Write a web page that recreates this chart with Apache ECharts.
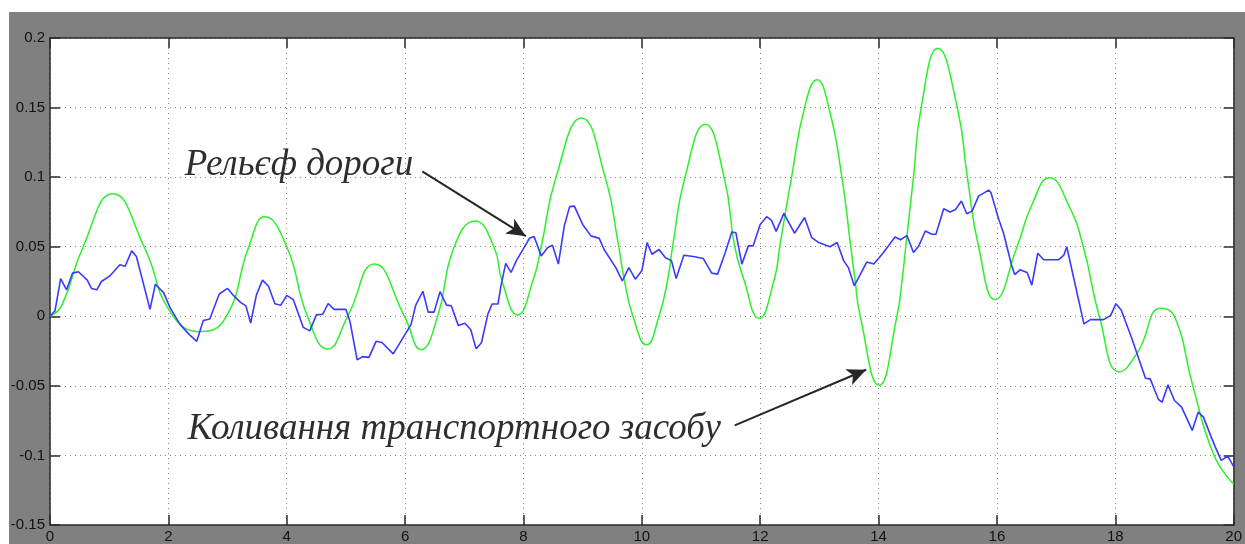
<!DOCTYPE html>
<html>
<head>
<meta charset="utf-8">
<script src="https://cdn.jsdelivr.net/npm/echarts@6/dist/echarts.min.js"></script>
<style>
  html, body { margin: 0; padding: 0; background: #ffffff; }
  #bg { position: absolute; left: 9px; top: 12px; width: 1236px; height: 532px; background: #808080; }
  #chart { position: absolute; left: 0; top: 0; width: 1245px; height: 544px; }
</style>
</head>
<body>
<div id="bg"></div>
<div id="chart"></div>
<script>
// ---- tick labels ----
const xTickLabels = ['0','2','4','6','8','10','12','14','16','18','20'];
const yTickLabels = ['-0.15','-0.1','-0.05','0','0.05','0.1','0.15','0.2'];

// ---- blue series: "Рельєф дороги" ----
const roadX = [0,0.085,0.18,0.28,0.38,0.48,0.63,0.70,0.79,0.87,1.01,1.18,1.27,1.38,1.46,1.69,1.78,1.92,2.03,2.2,2.35,2.48,2.59,2.70,2.86,3.0,3.10,3.22,3.31,3.39,3.49,3.59,3.69,3.80,3.90,4.0,4.11,4.28,4.39,4.50,4.61,4.70,4.80,5.0,5.07,5.19,5.28,5.39,5.51,5.61,5.80,6.0,6.10,6.18,6.30,6.39,6.49,6.59,6.70,6.78,6.90,7.01,7.11,7.20,7.29,7.40,7.47,7.57,7.62,7.70,7.79,7.88,8.02,8.10,8.18,8.30,8.41,8.49,8.59,8.69,8.78,8.86,9.0,9.14,9.28,9.36,9.56,9.67,9.78,9.89,10.0,10.09,10.17,10.29,10.40,10.50,10.58,10.71,10.87,11.04,11.18,11.28,11.41,11.52,11.59,11.69,11.80,11.88,12.0,12.11,12.19,12.27,12.40,12.58,12.75,12.87,12.99,13.18,13.30,13.41,13.49,13.59,13.69,13.80,13.92,14.06,14.28,14.37,14.48,14.59,14.68,14.79,14.90,14.97,15.10,15.21,15.30,15.40,15.49,15.58,15.69,15.86,15.90,16.03,16.11,16.25,16.30,16.39,16.51,16.59,16.69,16.79,17.04,17.13,17.18,17.32,17.47,17.58,17.80,17.92,18.01,18.10,18.28,18.51,18.59,18.73,18.79,18.89,19.0,19.12,19.30,19.40,19.49,19.61,19.69,19.79,19.90,20.0];
const roadY = [0,0.004,0.027,0.019,0.031,0.032,0.026,0.020,0.019,0.025,0.029,0.037,0.036,0.047,0.043,0.005,0.023,0.017,0.006,-0.006,-0.013,-0.018,-0.003,-0.002,0.016,0.020,0.015,0.010,0.0075,-0.0048,0.0157,0.026,0.0217,0.009,0.008,0.015,0.012,-0.008,-0.0105,0.001,0.0015,0.0092,0.005,0.005,-0.004,-0.0313,-0.029,-0.0295,-0.018,-0.0188,-0.027,-0.013,-0.006,0.008,0.018,0.003,0.003,0.0177,0.008,0.0076,-0.0067,-0.005,-0.0097,-0.0234,-0.019,0.0017,0.0088,0.0088,0.022,0.038,0.0315,0.040,0.050,0.056,0.0573,0.0434,0.0494,0.051,0.0375,0.065,0.0788,0.0792,0.066,0.0578,0.056,0.0482,0.035,0.0255,0.035,0.0267,0.0327,0.053,0.0446,0.048,0.042,0.040,0.0272,0.0439,0.043,0.0415,0.031,0.0303,0.0458,0.0606,0.060,0.0375,0.0506,0.0506,0.066,0.0716,0.069,0.061,0.074,0.0597,0.071,0.0566,0.053,0.050,0.053,0.040,0.035,0.022,0.030,0.039,0.0375,0.0446,0.057,0.055,0.058,0.0458,0.0506,0.0613,0.059,0.059,0.0773,0.075,0.0768,0.0828,0.0737,0.0756,0.0864,0.0907,0.0888,0.0697,0.060,0.0363,0.030,0.0334,0.0315,0.0224,0.0453,0.0406,0.0406,0.0439,0.050,0.0232,-0.0055,-0.0024,-0.0024,0.0005,0.009,0.0045,-0.016,-0.0445,-0.045,-0.0598,-0.0617,-0.0493,-0.0605,-0.0653,-0.082,-0.0689,-0.0725,-0.0856,-0.094,-0.1036,-0.1005,-0.108];

// ---- green series: "Коливання транспортного засобу" ----
const vehicleX = [0,0.2,0.56,1.06,1.59,2.05,2.56,2.98,3.36,3.63,4.0,4.35,4.69,5.03,5.48,5.99,6.27,6.55,6.83,7.18,7.5,7.64,7.9,8.17,8.3,8.55,8.98,9.38,9.61,9.70,9.85,10.08,10.29,10.44,10.52,10.73,11.07,11.39,11.57,11.72,11.98,12.24,12.33,12.53,12.75,12.96,13.16,13.38,13.53,13.6,13.69,14.01,14.31,14.40,14.46,14.59,14.72,15.0,15.33,15.50,15.69,15.97,16.34,16.59,16.89,17.21,17.46,17.73,18.07,18.38,18.77,19.0,19.31,19.67,20.0];
const vehicleY = [0,0.008,0.05,0.088,0.05,0.002,-0.011,0.0,0.05,0.0715,0.05,0.0,-0.0235,0.0,0.0375,0.0,-0.024,0.0,0.05,0.0685,0.05,0.025,0.001,0.027,0.05,0.1,0.1425,0.1,0.05,0.027,0.0,-0.0205,0.0,0.027,0.05,0.1,0.138,0.1,0.05,0.027,-0.0015,0.027,0.05,0.1,0.15,0.170,0.15,0.1,0.05,0.027,0.0,-0.0496,0.0,0.027,0.05,0.1,0.15,0.1926,0.15,0.1,0.05,0.012,0.05,0.08,0.0996,0.08,0.05,0.0,-0.040,-0.0257,0.0058,0.0,-0.05,-0.1,-0.1205];

// ---- annotations (data coordinates) ----
const roadLabel = 'Рельєф дороги';
const vehicleLabel = 'Коливання транспортного засобу';
const roadLabelPos = [2.277, 0.1084];
const vehicleLabelPos = [2.327, -0.0813];
const roadArrow = [[6.29, 0.1041], [8.04, 0.0576]];
const vehicleArrow = [[11.57, -0.0784], [13.79, -0.0384]];

const zip = (xs, ys) => xs.map((x, i) => [x, ys[i]]);
const yFmt = v => {
  const r = Math.round(v * 100) / 100;
  const found = yTickLabels.find(s => Math.abs(parseFloat(s) - r) < 1e-9);
  return found !== undefined ? found : String(r);
};
const xFmt = v => {
  const found = xTickLabels.find(s => Math.abs(parseFloat(s) - v) < 1e-9);
  return found !== undefined ? found : String(v);
};

const axisColor = '#2b2b2b';
const labelFont = { color: '#111', fontSize: 15, fontFamily: '"Liberation Sans Narrow", "Liberation Sans", Arial, sans-serif' };
const dotted = { color: '#858585', width: 1, type: [1, 4] };

const chart = echarts.init(document.getElementById('chart'), null, { renderer: 'canvas' });
chart.setOption({
  animation: false,
  backgroundColor: 'transparent',
  grid: { left: 50, top: 38, right: 9, bottom: 17, show: true, backgroundColor: '#ffffff', borderWidth: 0 },
  xAxis: [
    {
      type: 'value', min: 0, max: 20, interval: 2, position: 'bottom',
      axisLine: { show: true, onZero: false, lineStyle: { color: axisColor, width: 1.5 } },
      axisTick: { show: true, inside: true, length: 10, lineStyle: { color: axisColor, width: 1.5 } },
      axisLabel: Object.assign({ margin: 4, formatter: xFmt }, labelFont),
      splitLine: { show: true, lineStyle: dotted }
    },
    {
      type: 'value', min: 0, max: 20, interval: 2, position: 'top',
      axisLine: { show: true, onZero: false, lineStyle: { color: axisColor, width: 1.5 } },
      axisTick: { show: true, inside: true, length: 10, lineStyle: { color: axisColor, width: 1.5 } },
      axisLabel: { show: false }, splitLine: { show: false }
    }
  ],
  yAxis: [
    {
      type: 'value', min: -0.15, max: 0.2, interval: 0.05, position: 'left',
      axisLine: { show: true, onZero: false, lineStyle: { color: axisColor, width: 1.5 } },
      axisTick: { show: true, inside: true, length: 10, lineStyle: { color: axisColor, width: 1.5 } },
      axisLabel: Object.assign({ margin: 5, formatter: yFmt }, labelFont),
      splitLine: { show: true, lineStyle: dotted }
    },
    {
      type: 'value', min: -0.15, max: 0.2, interval: 0.05, position: 'right',
      axisLine: { show: true, onZero: false, lineStyle: { color: axisColor, width: 1.5 } },
      axisTick: { show: true, inside: true, length: 10, lineStyle: { color: axisColor, width: 1.5 } },
      axisLabel: { show: false }, splitLine: { show: false }
    }
  ],
  series: [
    {
      name: vehicleLabel, type: 'line', xAxisIndex: 0, yAxisIndex: 0,
      data: zip(vehicleX, vehicleY), showSymbol: false, smooth: 0.5,
      lineStyle: { color: '#2bf02b', width: 1.5 }, silent: true, z: 2
    },
    {
      name: roadLabel, type: 'line', xAxisIndex: 0, yAxisIndex: 0,
      data: zip(roadX, roadY), showSymbol: false, smooth: false,
      lineStyle: { color: '#3a3aff', width: 1.6 }, silent: true, z: 3,
      markLine: {
        silent: true, animation: false,
        symbol: ['none', 'arrow'], symbolSize: [13, 19],
        label: { show: false },
        lineStyle: { color: '#262626', width: 2, type: 'solid' },
        emphasis: { disabled: true },
        data: [
          [{ coord: roadArrow[0] }, { coord: roadArrow[1] }],
          [{ coord: vehicleArrow[0] }, { coord: vehicleArrow[1] }]
        ]
      }
    }
  ]
});

function placeLabels() {
  const p1 = chart.convertToPixel({ gridIndex: 0 }, roadLabelPos);
  const p2 = chart.convertToPixel({ gridIndex: 0 }, vehicleLabelPos);
  const font = 'italic 37px "Liberation Serif", "Times New Roman", serif';
  chart.setOption({
    graphic: [
      { type: 'text', x: p1[0], y: p1[1], silent: true, z: 10,
        style: { text: roadLabel, font: font, fill: '#2e2e2e', align: 'left', verticalAlign: 'middle' } },
      { type: 'text', x: p2[0], y: p2[1], silent: true, z: 10,
        style: { text: vehicleLabel, font: font, fill: '#2e2e2e', align: 'left', verticalAlign: 'middle' } }
    ]
  });
}
placeLabels();
</script>
</body>
</html>
